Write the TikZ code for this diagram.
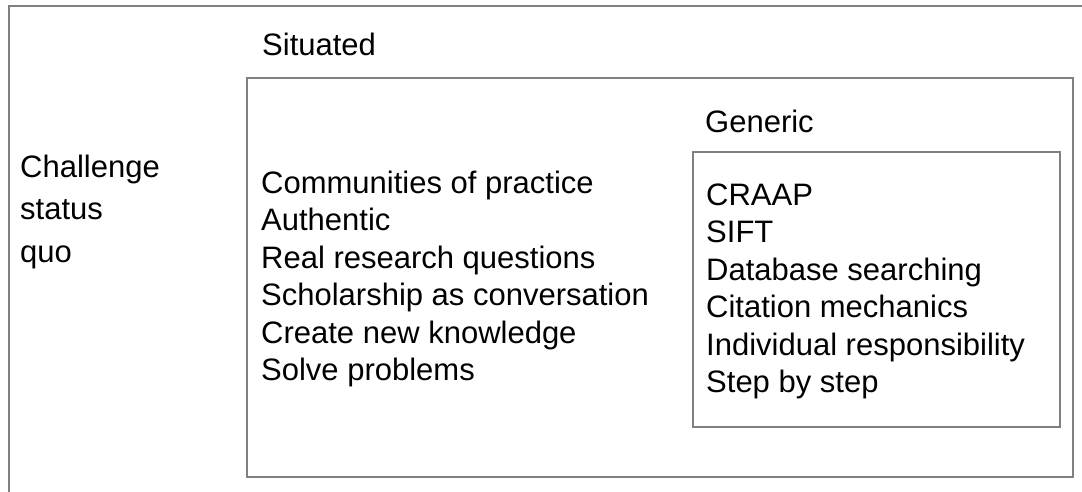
\documentclass[tikz,border=0pt]{standalone}
\usepackage{fontspec}
\setmainfont{Liberation Sans}
\usetikzlibrary{positioning}

\definecolor{framegray}{RGB}{128,128,128}
\tikzset{
  frame/.style={draw=framegray, line width=1.2pt},
  txt/.style={anchor=base west, inner sep=0pt, font=\fontsize{31}{37.5}\selectfont}
}

\begin{document}
\begin{tikzpicture}[x=1pt, y=-1pt]
\useasboundingbox (0,0) rectangle (1082,491);
\clip (0,0) rectangle (1082,491);
% frames
\draw[frame] (9,6) rectangle (1100,510);
\draw[frame] (247,78) rectangle (1073,477);
\draw[frame] (693,152) rectangle (1060,427);
% headings
\node[txt] (sit) at (262,55) {Situated};
\node[txt] (gen) at (705,132) {Generic};
\foreach \t [count=\i] in {Challenge,status,quo}
  \node[txt] (chal\i) at (20,{177+42.5*(\i-1)}) {\t};
\foreach \t [count=\i] in {Communities of practice,Authentic,Real research questions,
    Scholarship as conversation,Create new knowledge,Solve problems}
  \node[txt] (s\i) at (261,{193+37.5*(\i-1)}) {\t};
\foreach \t [count=\i] in {CRAAP,SIFT,Database searching,Citation mechanics,
    Individual responsibility,Step by step}
  \node[txt] (g\i) at (706,{205+37.5*(\i-1)}) {\t};
\end{tikzpicture}
\end{document}
